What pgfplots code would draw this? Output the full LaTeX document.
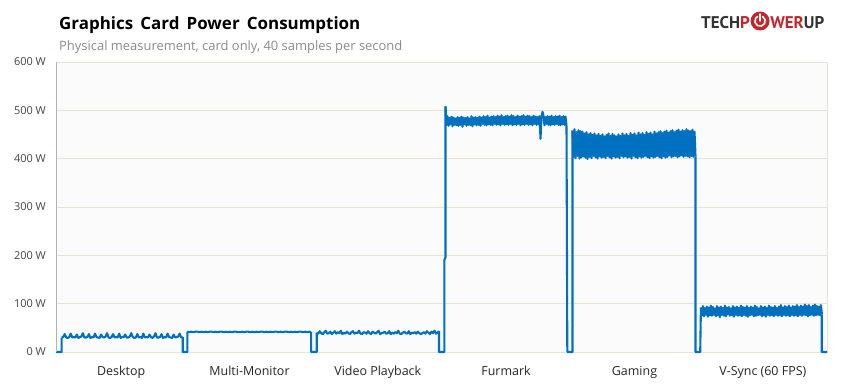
\documentclass[border=0pt]{standalone}
\usepackage{fontspec}
\setmainfont{Open Sans}
\newfontfamily\logofont{PT Sans}
\usepackage{pgfplots}
\usepackage{pgfplotstable}
\pgfplotsset{compat=1.18}
\definecolor{trace}{HTML}{0070C0}
\definecolor{gridc}{HTML}{E8E3D3}
\definecolor{bgc}{HTML}{FBFBFB}
\definecolor{tickc}{HTML}{444444}
\definecolor{subc}{HTML}{8A8A8A}
\definecolor{logored}{HTML}{C4262B}
\definecolor{logodark}{HTML}{333333}

\pgfplotstableread[row sep=\\]{y\\30\\31\\37\\30\\29\\31\\38\\30\\31\\30\\36\\29\\31\\32\\39\\30\\30\\31\\37\\29\\31\\30\\38\\31\\30\\29\\36\\31\\30\\32\\39\\30\\29\\31\\37\\30\\31\\30\\38\\29\\31\\31\\36\\30\\30\\32\\39\\31\\29\\30\\37\\30\\31\\29\\38\\30\\31\\30\\36\\31\\29\\32\\39\\30\\30\\31\\37\\29\\31\\30\\38\\31\\30\\29\\36\\30\\31\\32\\38\\30\\31\\}\desktop
\pgfplotstableread[row sep=\\]{y\\42\\41\\42\\41\\42\\42\\41\\42\\41\\42\\41\\42\\42\\41\\42\\41\\42\\42\\41\\42\\41\\42\\41\\42\\42\\41\\41\\42\\41\\42\\42\\41\\42\\41\\42\\41\\42\\42\\41\\42\\41\\42\\41\\42\\42\\41\\42\\41\\42\\42\\41\\42\\41\\42\\41\\42\\42\\41\\42\\41\\42\\41\\}\multimon
\pgfplotstableread[row sep=\\]{y\\40\\38\\43\\39\\37\\41\\44\\38\\39\\42\\37\\40\\43\\38\\41\\39\\44\\37\\40\\38\\42\\39\\37\\41\\43\\38\\40\\39\\44\\38\\37\\41\\40\\38\\43\\39\\37\\42\\40\\38\\41\\44\\37\\39\\40\\42\\38\\39\\43\\37\\40\\38\\41\\39\\44\\38\\37\\40\\42\\39\\38\\43\\37\\40\\39\\41\\38\\42\\39\\37\\39\\41\\38\\43\\40\\37\\42\\39\\44\\38\\40\\43\\}\video
\pgfplotstableread[row sep=\\]{y\\508\\470\\488\\468\\484\\471\\487\\467\\485\\470\\483\\469\\486\\468\\484\\470\\487\\466\\485\\471\\484\\468\\486\\470\\483\\469\\488\\467\\485\\471\\486\\469\\484\\470\\487\\468\\485\\472\\488\\470\\486\\469\\489\\471\\485\\470\\487\\469\\488\\472\\486\\470\\489\\471\\487\\469\\490\\472\\486\\470\\488\\471\\489\\470\\487\\472\\490\\469\\488\\471\\486\\470\\489\\472\\487\\469\\488\\471\\490\\470\\487\\472\\489\\470\\488\\471\\486\\469\\489\\472\\487\\470\\486\\471\\488\\441\\487\\497\\489\\469\\486\\472\\488\\470\\487\\469\\489\\471\\486\\470\\488\\472\\487\\470\\489\\469\\486\\471\\488\\470\\487\\468\\}\furmark
\pgfplotstableread[row sep=\\]{y\\458\\404\\461\\401\\455\\406\\459\\400\\457\\403\\456\\405\\452\\402\\455\\399\\450\\404\\453\\401\\449\\406\\452\\403\\448\\400\\451\\405\\447\\402\\450\\404\\446\\401\\449\\406\\452\\403\\447\\400\\451\\405\\448\\402\\446\\404\\450\\401\\447\\406\\452\\403\\448\\405\\451\\402\\447\\404\\453\\400\\449\\406\\452\\403\\448\\401\\454\\405\\450\\402\\453\\404\\449\\406\\455\\403\\451\\401\\454\\405\\450\\402\\456\\404\\452\\406\\455\\403\\457\\401\\453\\405\\456\\402\\458\\404\\454\\407\\457\\403\\459\\405\\455\\406\\458\\403\\460\\405\\456\\407\\459\\404\\457\\406\\461\\405\\458\\403\\457\\406\\460\\404\\456\\405\\}\gaming
\pgfplotstableread[row sep=\\]{y\\92\\76\\95\\74\\91\\77\\94\\73\\92\\76\\96\\75\\93\\77\\90\\74\\95\\76\\92\\72\\94\\77\\91\\75\\96\\74\\92\\78\\93\\75\\90\\76\\95\\73\\92\\77\\94\\75\\91\\76\\96\\74\\93\\77\\92\\75\\95\\73\\91\\76\\94\\77\\92\\74\\96\\75\\93\\76\\90\\77\\95\\74\\92\\76\\94\\73\\91\\77\\96\\75\\93\\76\\92\\74\\95\\77\\91\\75\\94\\76\\97\\74\\92\\77\\95\\75\\93\\76\\96\\74\\92\\77\\95\\75\\94\\76\\97\\74\\93\\77\\96\\75\\94\\77\\98\\76\\95\\74\\97\\76\\93\\77\\96\\75\\98\\76\\95\\77\\94\\76\\97\\78\\}\vsync

\begin{document}
\begin{tikzpicture}[x=1bp,y=1bp]
\path[use as bounding box] (0,0) rectangle (841,387);
\begin{axis}[
  at={(56bp,35bp)}, anchor=south west,
  scale only axis, width=771bp, height=290bp,
  xmin=56, xmax=827, ymin=0, ymax=600,
  axis background/.style={fill=bgc},
  axis line style={draw=gridc, line width=0.8pt},
  ytick={0,100,200,300,400,500,600},
  yticklabels={0 W,100 W,200 W,300 W,400 W,500 W,600 W},
  yticklabel style={font=\fontsize{11}{13}\selectfont, text=tickc, inner sep=0pt, anchor=east, xshift=-10bp},
  xtick={121.2,249.5,377.8,506,634.5,762.8},
  xticklabels={Desktop,Multi-Monitor,Video Playback,Furmark,Gaming,V-Sync (60 FPS)},
  xticklabel style={font=\fontsize{12.5}{15}\selectfont, text=black!85, anchor=base, yshift=-23.7bp},
  major tick length=0pt,
  ymajorgrids, grid style={draw=gridc, line width=0.8pt},
  unbounded coords=jump,
  tr/.style={draw=trace, line width=2.1pt, line join=round, mark=none},
  clip=false,
]
\addplot[tr] coordinates {(56,0)(61.7,0)(61.7,30) (0,nan)
 (182.7,31)(182.7,0)(187.3,0)(187.3,42) (0,nan)
 (311.1,41)(311.1,0)(316.7,0)(316.7,40) (0,nan)
 (439,43)(439,0)(444.3,0)(444.3,190)(445.5,196)(445.5,508) (0,nan)
 (566.5,468)(567.3,0)(572.5,0)(572.5,458) (0,nan)
 (695.5,405)(695.5,0)(700.2,0)(700.9,92) (0,nan)
 (821.7,78)(821.7,0)(827,0)};
\addplot[tr] table[x expr=61.7+1.5125*\coordindex, y=y] {\desktop};
\addplot[tr] table[x expr=187.3+2.03*\coordindex, y=y] {\multimon};
\addplot[tr] table[x expr=316.7+1.51*\coordindex, y=y] {\video};
\addplot[tr] table[x expr=445.5+1.0*\coordindex, y=y] {\furmark};
\addplot[tr] table[x expr=572.5+1.0*\coordindex, y=y] {\gaming};
\addplot[tr] table[x expr=700.9+1.0*\coordindex, y=y] {\vsync};
\draw[draw=black!30, line width=0.8pt] (rel axis cs:0,0) -- (rel axis cs:0,1);
\end{axis}
% title
\node[anchor=base west, inner sep=0pt] at (59,358) {\fontsize{17}{20}\selectfont\bfseries Graphics\, Card\, Power\, Consumption};
\node[anchor=base west, inner sep=0pt, text=subc] at (59,337) {\fontsize{13}{16}\selectfont Physical measurement, card only, 40 samples per second};
% logo
\node[anchor=base west, inner sep=0pt, text=logodark] (A) at (701,359) {\logofont\bfseries\fontsize{17}{20}\selectfont TECH\textcolor{logored}{P}};
\fill[logored] ([xshift=10bp]A.base east) ++(0,7) circle (9.5);
\draw[white, line width=1.6, line cap=round] ([xshift=10bp]A.base east) ++(0,7) ++(60:5.2) arc (60:-240:5.2);
\draw[white, line width=1.6, line cap=round] ([xshift=10bp]A.base east) ++(0,7) -- ++(0,7);
\node[anchor=base west, inner sep=0pt, text=logored] at ([xshift=20bp]A.base east) {\logofont\bfseries\fontsize{17}{20}\selectfont WER\textcolor{logodark}{UP}};
\end{tikzpicture}
\end{document}
